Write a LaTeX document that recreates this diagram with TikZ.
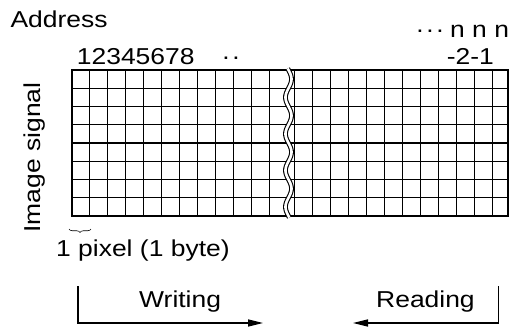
\documentclass[tikz,border=0pt]{standalone}
\usepackage{fontspec}
\setmainfont{Liberation Sans}[FakeStretch=1.15]
\usetikzlibrary{arrows.meta,decorations.pathreplacing}
\begin{document}
\begin{tikzpicture}[x=1pt,y=-1pt,
  lbl/.style={inner sep=0pt, font=\fontsize{23}{27}\selectfont},
  gridline/.style={line width=1.4pt},
  border/.style={line width=2.4pt},
  flow/.style={line width=1.3pt, -{Triangle[length=15pt,width=7pt]}}]
\useasboundingbox (0,0) rectangle (509,329);
% grid
\foreach \k in {1,...,11} \draw[gridline] ({71.7+18*\k},70) -- ({71.7+18*\k},216);
\foreach \k in {0,...,11} \draw[gridline] ({294.3+18*\k},70) -- ({294.3+18*\k},216);
\foreach \j in {1,...,7} \draw[gridline] (71.7,{70+18.25*\j}) -- (508.5,{70+18.25*\j});
\draw[border] (71.7,70) rectangle (508.5,216);
% break
\draw[line width=1.1pt, double=white, double distance=2.6pt]
  plot[domain=-1.5:147.5, samples=150, smooth] ({288.5+3*sin(9.863*\x)}, {\x+70});
% brace
\draw[line width=0.6pt, decorate, decoration={brace, mirror, amplitude=3.5pt}] (69,229) -- (91,229);
% labels
\node[lbl, anchor=base west] (addr) at (10.3,27.5) {Address};
\node[lbl, anchor=base west] (nums) at (76.7,64.5) {12345678};
\node[lbl, anchor=base] (da) at (226,64.5) {·};
\node[lbl, anchor=base] (db) at (236,64.5) {·};
\node[lbl, anchor=base] (dc) at (420,37.5) {·};
\node[lbl, anchor=base] (dd) at (430,37.5) {·};
\node[lbl, anchor=base] (de) at (440,37.5) {·};
\node[lbl, anchor=base west] (nnn) at (450,37.5) {n n n};
\node[lbl, anchor=base west] (sub) at (446.7,64.5) {-2-1};
\node[lbl, rotate=90, anchor=base] (sig) at (40.7,157.5) {Image signal};
\node[lbl, anchor=base west] (pix) at (56,256) {1 pixel (1 byte)};
\node[lbl, anchor=base west] (wr) at (139,307) {Writing};
\node[lbl, anchor=base west] (rd) at (376,307) {Reading};
% arrows
\coordinate (w0) at (78,286);
\coordinate (wc) at (78,323);
\coordinate (w1) at (263,323);
\coordinate (r0) at (498.3,286);
\coordinate (rc) at (498.3,323);
\coordinate (r1) at (353,323);
\draw[flow] (w0) -- (wc) -- (w1);
\draw[flow] (r0) -- (rc) -- (r1);
\end{tikzpicture}
\end{document}
